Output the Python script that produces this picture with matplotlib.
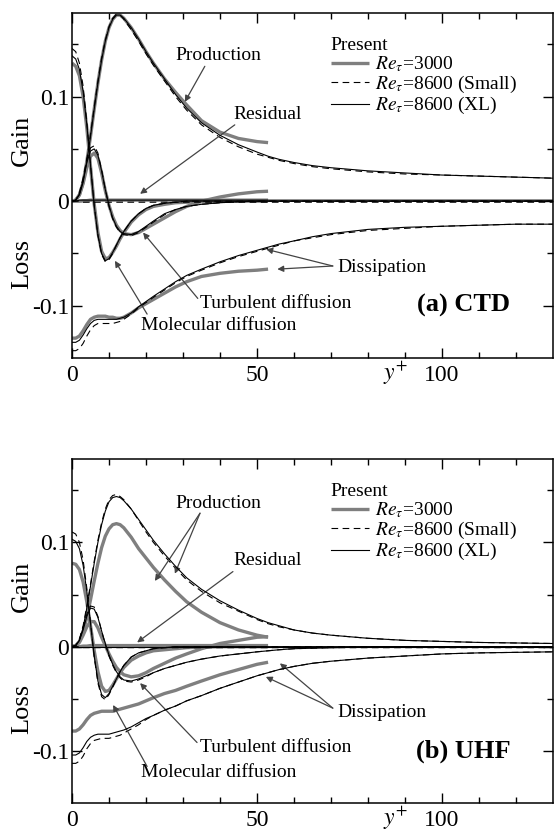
import matplotlib
matplotlib.use("Agg")
import matplotlib.pyplot as plt

plt.rcParams['font.family'] = ['Liberation Serif', 'DejaVu Serif']
plt.rcParams['mathtext.fontset'] = 'stix'
plt.rcParams['axes.unicode_minus'] = False

# y+ positions (Re_tau=3000 stops at 53, Re_tau=8600 goes on to 130)
yp_short = [0, 1, 2, 3, 4, 5, 6, 7, 8, 9, 10, 11, 12, 13, 14, 16, 18, 20, 22, 25, 28, 31, 35, 40, 45, 50, 53]
yp_long = yp_short + [56, 60, 65, 70, 80, 90, 100, 110, 120, 130]

# ---------------- (a) CTD ----------------
prod_a_3000 = [0, 0.001, 0.006, 0.018, 0.038, 0.062, 0.088, 0.113, 0.135, 0.153, 0.166, 0.174, 0.178, 0.178, 0.175,
               0.166, 0.155, 0.143, 0.132, 0.117, 0.104, 0.092, 0.077, 0.066, 0.060, 0.057, 0.056]
prod_a_small = [0, 0.001, 0.007, 0.020, 0.040, 0.064, 0.090, 0.115, 0.137, 0.154, 0.167, 0.175, 0.179, 0.178, 0.174,
                0.164, 0.153, 0.141, 0.130, 0.115, 0.100, 0.087, 0.073, 0.061, 0.052, 0.045, 0.042,
                0.039, 0.036, 0.033, 0.031, 0.028, 0.026, 0.025, 0.024, 0.023, 0.022]
prod_a_xl = [0, 0.001, 0.006, 0.018, 0.038, 0.062, 0.088, 0.113, 0.135, 0.153, 0.166, 0.174, 0.178, 0.178, 0.175,
             0.166, 0.155, 0.143, 0.132, 0.117, 0.102, 0.089, 0.075, 0.063, 0.054, 0.047, 0.043,
             0.040, 0.037, 0.034, 0.032, 0.029, 0.027, 0.025, 0.024, 0.023, 0.022]

turb_a_3000 = [0, 0.001, 0.006, 0.017, 0.032, 0.043, 0.046, 0.041, 0.027, 0.010, -0.004, -0.015, -0.023, -0.028, -0.031,
               -0.032, -0.030, -0.026, -0.022, -0.016, -0.010, -0.005, 0.000, 0.004, 0.007, 0.009, 0.0095]
turb_a_small = [0, 0.001, 0.008, 0.022, 0.040, 0.051, 0.053, 0.046, 0.030, 0.011, -0.005, -0.017, -0.025, -0.030, -0.032,
                -0.033, -0.030, -0.025, -0.020, -0.013, -0.008, -0.005, -0.003, -0.0015, -0.0005, 0, 0,
                0, 0, 0, 0, 0, 0, 0, 0, 0, 0]
turb_a_xl = [0, 0.001, 0.007, 0.020, 0.037, 0.048, 0.050, 0.044, 0.029, 0.011, -0.004, -0.016, -0.024, -0.029, -0.031,
             -0.032, -0.029, -0.024, -0.019, -0.012, -0.008, -0.005, -0.003, -0.0015, -0.0005, 0, 0,
             0, 0, 0, 0, 0, 0, 0, 0, 0, 0]

mol_a_3000 = [0.132, 0.129, 0.120, 0.100, 0.070, 0.033, -0.003, -0.030, -0.048, -0.055, -0.054, -0.049, -0.043, -0.036, -0.030,
              -0.020, -0.013, -0.008, -0.005, -0.003, -0.0015, -0.001, -0.0005, 0, 0, 0, 0]
mol_a_small = [0.146, 0.143, 0.132, 0.110, 0.076, 0.035, -0.004, -0.033, -0.051, -0.058, -0.056, -0.050, -0.042, -0.035, -0.029,
               -0.019, -0.012, -0.007, -0.004, -0.002, -0.001, 0, 0, 0, 0, 0, 0,
               0, 0, 0, 0, 0, 0, 0, 0, 0, 0]
mol_a_xl = [0.139, 0.136, 0.126, 0.105, 0.073, 0.034, -0.004, -0.032, -0.050, -0.057, -0.055, -0.049, -0.042, -0.035, -0.029,
            -0.019, -0.012, -0.007, -0.004, -0.002, -0.001, 0, 0, 0, 0, 0, 0,
            0, 0, 0, 0, 0, 0, 0, 0, 0, 0]

diss_a_3000 = [-0.131, -0.131, -0.129, -0.124, -0.118, -0.113, -0.111, -0.110, -0.110, -0.110, -0.111, -0.111, -0.112, -0.112, -0.111,
               -0.107, -0.102, -0.098, -0.094, -0.088, -0.082, -0.077, -0.072, -0.069, -0.067, -0.066, -0.065]
diss_a_small = [-0.143, -0.143, -0.141, -0.136, -0.129, -0.123, -0.119, -0.117, -0.117, -0.117, -0.117, -0.117, -0.116, -0.115, -0.113,
                -0.108, -0.102, -0.097, -0.092, -0.085, -0.078, -0.072, -0.066, -0.059, -0.053, -0.048, -0.045,
                -0.042, -0.038, -0.035, -0.032, -0.028, -0.026, -0.024, -0.023, -0.022, -0.022]
diss_a_xl = [-0.135, -0.135, -0.133, -0.128, -0.122, -0.117, -0.114, -0.113, -0.113, -0.113, -0.113, -0.113, -0.113, -0.112, -0.111,
             -0.107, -0.101, -0.096, -0.091, -0.084, -0.077, -0.071, -0.065, -0.058, -0.052, -0.047, -0.044,
             -0.041, -0.038, -0.034, -0.031, -0.027, -0.025, -0.024, -0.023, -0.022, -0.022]

resid_a_3000 = [0, 0, 0, 0.0005, 0.0005, 0.001, 0.001, 0.001, 0.001, 0.001, 0.001, 0.001, 0.001, 0.001, 0.001,
                0.001, 0.001, 0.001, 0.001, 0.001, 0.001, 0.001, 0.001, 0.001, 0.001, 0.001, 0.001]
resid_a_small = [0, 0, 0, -0.001, -0.001, -0.001, -0.001, -0.001, -0.001, -0.001, -0.001, -0.001, -0.001, -0.001, -0.001,
                 -0.001, -0.001, -0.001, -0.001, -0.001, -0.001, -0.001, -0.001, -0.001, -0.001, -0.001, -0.001,
                 -0.001, -0.001, -0.001, -0.001, -0.001, -0.001, -0.001, -0.001, -0.001, -0.001]
resid_a_xl = [0, 0, 0.001, 0.001, 0.001, 0.001, 0.001, 0.001, 0.001, 0.001, 0.001, 0.001, 0.001, 0.001, 0.001,
              0.001, 0.001, 0.001, 0.001, 0.001, 0.001, 0.001, 0.001, 0.001, 0.001, 0.001, 0.001,
              0.001, 0.001, 0.001, 0.001, 0.001, 0.001, 0.001, 0.001, 0.001, 0.001]

# ---------------- (b) UHF ----------------
prod_b_3000 = [0, 0.001, 0.005, 0.014, 0.028, 0.045, 0.063, 0.080, 0.095, 0.106, 0.113, 0.117, 0.118, 0.117, 0.114,
               0.105, 0.094, 0.085, 0.076, 0.064, 0.053, 0.043, 0.033, 0.023, 0.016, 0.011, 0.009]
prod_b_small = [0, 0.001, 0.007, 0.020, 0.039, 0.060, 0.082, 0.102, 0.119, 0.132, 0.141, 0.145, 0.146, 0.144, 0.141,
                0.132, 0.121, 0.110, 0.100, 0.087, 0.075, 0.064, 0.053, 0.042, 0.034, 0.026, 0.022,
                0.019, 0.016, 0.013, 0.011, 0.008, 0.006, 0.005, 0.004, 0.0035, 0.003]
prod_b_xl = [0, 0.001, 0.006, 0.018, 0.037, 0.058, 0.080, 0.100, 0.117, 0.130, 0.139, 0.143, 0.144, 0.143, 0.140,
             0.132, 0.122, 0.112, 0.102, 0.089, 0.077, 0.066, 0.055, 0.044, 0.035, 0.027, 0.023,
             0.020, 0.016, 0.013, 0.011, 0.008, 0.006, 0.005, 0.004, 0.0035, 0.003]

turb_b_3000 = [0, 0.001, 0.004, 0.011, 0.019, 0.024, 0.024, 0.018, 0.009, 0.001, -0.007, -0.014, -0.020, -0.024, -0.027,
               -0.029, -0.028, -0.025, -0.021, -0.016, -0.011, -0.007, -0.002, 0.003, 0.006, 0.009, 0.0095]
turb_b_small = [0, 0.001, 0.007, 0.018, 0.031, 0.039, 0.038, 0.029, 0.015, 0.002, -0.009, -0.018, -0.025, -0.030, -0.033,
                -0.034, -0.032, -0.029, -0.025, -0.021, -0.018, -0.015, -0.012, -0.009, -0.007, -0.005, -0.004,
                -0.003, -0.002, -0.0015, -0.001, -0.0005, 0, 0, 0, 0, 0]
turb_b_xl = [0, 0.001, 0.006, 0.016, 0.029, 0.037, 0.036, 0.028, 0.015, 0.003, -0.008, -0.017, -0.024, -0.029, -0.032,
             -0.033, -0.031, -0.028, -0.025, -0.021, -0.018, -0.015, -0.012, -0.009, -0.007, -0.005, -0.004,
             -0.003, -0.002, -0.0015, -0.001, -0.0005, 0, 0, 0, 0, 0]

mol_b_3000 = [0.080, 0.079, 0.074, 0.062, 0.043, 0.020, -0.004, -0.024, -0.038, -0.043, -0.042, -0.037, -0.031, -0.025, -0.020,
              -0.013, -0.009, -0.006, -0.004, -0.003, -0.002, -0.001, -0.0005, 0, 0, 0, 0]
mol_b_small = [0.110, 0.108, 0.100, 0.083, 0.056, 0.023, -0.010, -0.035, -0.048, -0.051, -0.046, -0.039, -0.031, -0.024, -0.018,
               -0.010, -0.006, -0.004, -0.002, -0.001, 0, 0, 0, 0, 0, 0, 0,
               0, 0, 0, 0, 0, 0, 0, 0, 0, 0]
mol_b_xl = [0.103, 0.101, 0.094, 0.078, 0.053, 0.022, -0.009, -0.033, -0.046, -0.049, -0.045, -0.038, -0.031, -0.024, -0.018,
            -0.010, -0.006, -0.004, -0.002, -0.001, 0, 0, 0, 0, 0, 0, 0,
            0, 0, 0, 0, 0, 0, 0, 0, 0, 0]

diss_b_3000 = [-0.081, -0.081, -0.079, -0.075, -0.070, -0.066, -0.064, -0.063, -0.062, -0.062, -0.062, -0.062, -0.061, -0.060, -0.059,
               -0.057, -0.055, -0.052, -0.049, -0.045, -0.042, -0.038, -0.033, -0.027, -0.022, -0.017, -0.015]
diss_b_small = [-0.112, -0.112, -0.110, -0.105, -0.098, -0.093, -0.090, -0.089, -0.088, -0.088, -0.088, -0.087, -0.086, -0.085, -0.083,
                -0.079, -0.075, -0.070, -0.066, -0.061, -0.057, -0.052, -0.047, -0.040, -0.034, -0.028, -0.025,
                -0.022, -0.019, -0.016, -0.014, -0.011, -0.009, -0.007, -0.006, -0.0055, -0.005]
diss_b_xl = [-0.104, -0.104, -0.102, -0.097, -0.091, -0.087, -0.085, -0.084, -0.084, -0.084, -0.084, -0.083, -0.082, -0.081, -0.080,
             -0.077, -0.073, -0.069, -0.066, -0.061, -0.057, -0.052, -0.047, -0.040, -0.034, -0.028, -0.025,
             -0.022, -0.019, -0.016, -0.014, -0.011, -0.009, -0.007, -0.006, -0.0055, -0.005]

resid_b_3000 = [0, 0, 0, 0.0005, 0.0005, 0.001, 0.001, 0.001, 0.001, 0.001, 0.001, 0.001, 0.001, 0.001, 0.001,
                0.001, 0.001, 0.001, 0.001, 0.001, 0.001, 0.001, 0.001, 0.001, 0.001, 0.001, 0.001]
resid_b_small = [0, 0, 0, -0.001, -0.001, -0.001, -0.001, -0.001, -0.001, -0.001, -0.001, -0.001, -0.001, -0.001, -0.001,
                 -0.001, -0.001, -0.001, -0.001, -0.001, -0.001, -0.001, -0.001, -0.001, -0.001, -0.001, -0.001,
                 -0.001, -0.001, -0.001, -0.001, -0.001, -0.001, -0.001, -0.001, -0.001, -0.001]
resid_b_xl = [0, 0, 0, 0, 0, 0, 0, 0, 0, 0, 0, 0, 0, 0, 0,
              0, 0, 0, 0, 0, 0, 0, 0, 0, 0, 0, 0,
              0, 0, 0, 0, 0, 0, 0, 0, 0, 0]

legend_labels = [r'$Re_{\tau}$=3000', r'$Re_{\tau}$=8600 (Small)', r'$Re_{\tau}$=8600 (XL)']

GRAY = '#7f7f7f'
ARROW = '#444444'


def draw_panel(ax, terms_3000, terms_small, terms_xl, notes, tag):
    # thick gray first, then the thin black ones on top
    for v in terms_3000:
        h3000, = ax.plot(yp_short, v, color=GRAY, lw=2.4, solid_capstyle='butt', zorder=2)
    for v in terms_small:
        hsmall, = ax.plot(yp_long, v, color='black', lw=0.8, dashes=(6, 4), zorder=3)
    for v in terms_xl:
        hxl, = ax.plot(yp_long, v, color='black', lw=0.8, zorder=4)

    ax.set_xlim(0, 130)
    ax.set_ylim(-0.15, 0.18)
    ax.set_xticks([0, 50, 100])
    ax.set_xticks([10, 20, 30, 40, 60, 70, 80, 90, 110, 120], minor=True)
    ax.set_yticks([-0.1, 0, 0.1])
    ax.set_yticklabels(['-0.1', '0', '0.1'])
    ax.set_yticks([-0.05, 0.05, 0.15], minor=True)
    ax.tick_params(which='both', direction='in', top=True, right=True, width=1.0)
    ax.tick_params(which='major', length=7, labelsize=17)
    ax.tick_params(which='minor', length=4)
    ax.tick_params(axis='x', pad=5)
    ax.tick_params(axis='y', pad=2)
    for s in ax.spines.values():
        s.set_linewidth(1.1)

    # labels around the frame
    ax.text(0.672, -0.044, r'$y^{+}$', transform=ax.transAxes, ha='center', va='center', fontsize=17)
    ax.text(-0.104, 0.63, 'Gain', transform=ax.transAxes, rotation=90, ha='center', va='center', fontsize=19)
    ax.text(-0.104, 0.273, 'Loss', transform=ax.transAxes, rotation=90, ha='center', va='center', fontsize=19)

    # annotations with arrows
    for text, pos, tail, heads in notes:
        ax.text(pos[0], pos[1], text, ha='center', va='center', fontsize=14)
        for head in heads:
            ax.annotate('', xy=head, xytext=tail,
                        arrowprops=dict(arrowstyle='-|>', color=ARROW, lw=0.9,
                                        mutation_scale=9, shrinkA=0, shrinkB=0))

    ax.text(105.7, -0.100, tag, ha='center', va='center', fontsize=19, fontweight='bold')

    ax.legend([h3000, hsmall, hxl], legend_labels, title='Present', alignment='left',
              loc='upper left', bbox_to_anchor=(0.538, 0.929), frameon=False,
              fontsize=14, title_fontsize=14, handlelength=1.95, handletextpad=0.35,
              labelspacing=0.0, borderpad=0, borderaxespad=0)


notes_a = [
    ('Production', (39.5, 0.139), (35.9, 0.129), [(30.5, 0.095)]),
    ('Residual', (53.0, 0.083), (44.0, 0.073), [(18.4, 0.007)]),
    ('Dissipation', (83.8, -0.063), (70.5, -0.062), [(52.5, -0.046), (55.5, -0.065)]),
    ('Turbulent diffusion', (55.0, -0.098), (34.0, -0.093), [(19.2, -0.030)]),
    ('Molecular diffusion', (39.6, -0.119), (20.3, -0.108), [(11.6, -0.057)]),
]
notes_b = [
    ('Production', (39.5, 0.137), (34.6, 0.128), [(22.4, 0.063), (27.8, 0.070)]),
    ('Residual', (53.0, 0.083), (43.5, 0.072), [(17.6, 0.004)]),
    ('Dissipation', (83.8, -0.063), (70.5, -0.059), [(56.2, -0.016), (52.4, -0.029)]),
    ('Turbulent diffusion', (55.0, -0.097), (33.8, -0.092), [(18.4, -0.035)]),
    ('Molecular diffusion', (39.6, -0.121), (20.3, -0.115), [(11.1, -0.056)]),
]

fig = plt.figure(figsize=(5.54, 8.32), dpi=100)
ax_a = fig.add_axes([0.130, 0.5697, 0.868, 0.4147])
ax_b = fig.add_axes([0.130, 0.0349, 0.868, 0.4134])

draw_panel(ax_a,
           [prod_a_3000, turb_a_3000, mol_a_3000, diss_a_3000, resid_a_3000],
           [prod_a_small, turb_a_small, mol_a_small, diss_a_small, resid_a_small],
           [prod_a_xl, turb_a_xl, mol_a_xl, diss_a_xl, resid_a_xl],
           notes_a, '(a) CTD')
draw_panel(ax_b,
           [prod_b_3000, turb_b_3000, mol_b_3000, diss_b_3000, resid_b_3000],
           [prod_b_small, turb_b_small, mol_b_small, diss_b_small, resid_b_small],
           [prod_b_xl, turb_b_xl, mol_b_xl, diss_b_xl, resid_b_xl],
           notes_b, '(b) UHF')

fig.savefig('out.png', dpi=100)
